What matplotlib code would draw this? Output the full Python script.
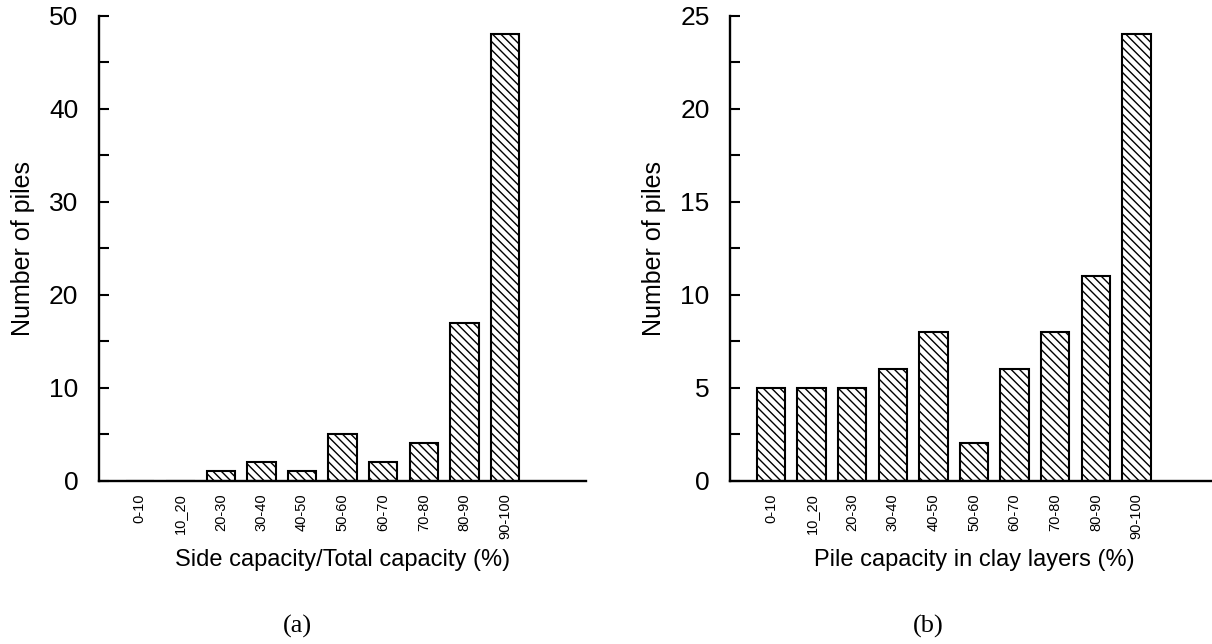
import matplotlib
matplotlib.use("Agg")
import matplotlib.pyplot as plt
import numpy as np

plt.rcParams['font.family'] = ['Liberation Sans', 'DejaVu Sans']
plt.rcParams['hatch.linewidth'] = 1.0

categories = ["0-10", "10_20", "20-30", "30-40", "40-50",
              "50-60", "60-70", "70-80", "80-90", "90-100"]
side_ratio_counts = [0, 0, 1, 2, 1, 5, 2, 4, 17, 48]
clay_capacity_counts = [5, 5, 5, 6, 8, 2, 6, 8, 11, 24]

fig = plt.figure(figsize=(12.12, 6.44), dpi=100)
ax1 = fig.add_axes([0.0819, 0.2536, 0.4016, 0.722])
ax2 = fig.add_axes([0.6027, 0.2536, 0.4020, 0.722])


def draw_panel(ax, counts, ymax, major, xlabel):
    x = list(range(len(categories)))
    ax.bar(x, counts, width=0.7, color="white", edgecolor="black",
           linewidth=1.5, hatch="\\\\\\\\", zorder=2)
    ax.set_xlim(-1, 11)
    ax.set_ylim(0, ymax)
    ax.set_xticks(x)
    ax.set_xticklabels(categories, rotation=90, fontsize=10.5)
    ax.tick_params(axis="x", length=0, pad=9)
    ax.set_yticks(np.arange(0, ymax + 0.1, major))
    ax.set_yticks(np.arange(0, ymax + 0.1, major / 2), minor=True)
    ax.set_yticklabels([str(int(v)) for v in np.arange(0, ymax + 0.1, major)])
    ax.tick_params(axis="y", which="both", direction="in", length=7,
                   width=1.5, labelsize=19, pad=15)
    for s in ["top", "right"]:
        ax.spines[s].set_visible(False)
    for s in ["left", "bottom"]:
        ax.spines[s].set_linewidth(1.7)
    ax.set_ylabel("Number of piles", fontsize=18)
    ax.yaxis.set_label_coords(-0.133, 0.5)
    ax.set_xlabel(xlabel, fontsize=17)
    ax.xaxis.set_label_coords(0.5, -0.148)


draw_panel(ax1, side_ratio_counts, 50, 10, "Side capacity/Total capacity (%)")
draw_panel(ax2, clay_capacity_counts, 25, 5, "Pile capacity in clay layers (%)")

fig.text(0.245, 0.028, "(a)", ha="center", va="center", fontsize=19,
         family="Liberation Serif")
fig.text(0.766, 0.028, "(b)", ha="center", va="center", fontsize=19,
         family="Liberation Serif")

fig.savefig("out.png", dpi=100)
